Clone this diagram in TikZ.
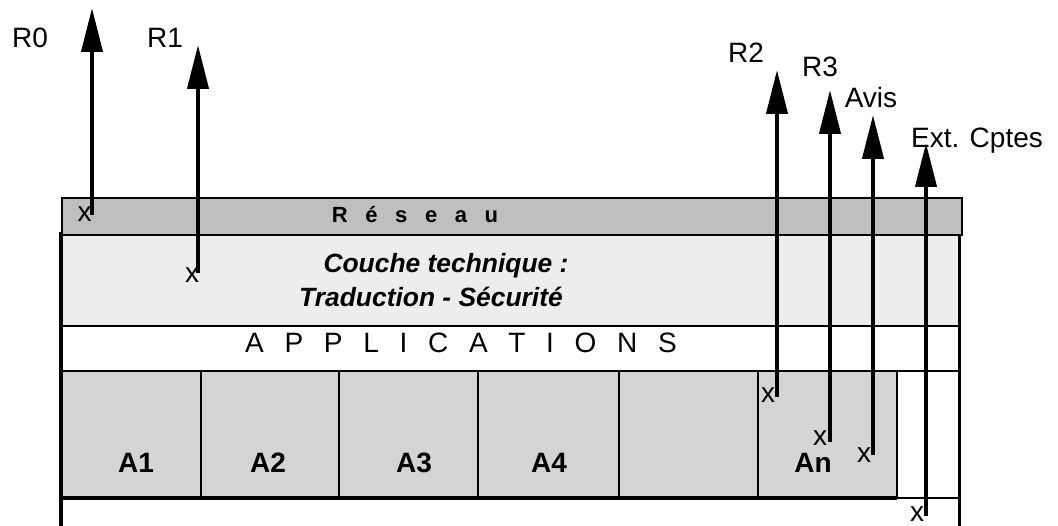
\documentclass[tikz,border=0pt]{standalone}
\usepackage{fontspec}
\setmainfont{Liberation Sans}
\usetikzlibrary{arrows.meta}
\definecolor{resgray}{HTML}{BFBFBF}
\definecolor{coulight}{HTML}{EDEDED}
\definecolor{appgray}{HTML}{D4D4D4}
\newcommand{\gapR}{\hspace{17.6pt}}
\newcommand{\gapA}{\hspace{20.7pt}}
\begin{document}
\begin{tikzpicture}[x=1pt,y=-1pt,
  band/.style={draw=black, line width=1.8pt, inner sep=0pt, outer sep=0pt, anchor=north west},
  appbox/.style={band, fill=appgray, minimum height=127pt},
  frame/.style={line width=4pt},
  arr/.style={line width=4.2pt, -{Triangle[length=44pt,width=21pt]}},
  lbl/.style={anchor=base, inner sep=0pt, font=\fontsize{28}{30}\selectfont},
  xm/.style={anchor=base, inner sep=0pt, font=\fontsize{28}{30}\selectfont},
  appname/.style={anchor=base, inner sep=0pt, font=\bfseries\fontsize{28}{30}\selectfont},
  couchetxt/.style={anchor=base, inner sep=0pt, font=\bfseries\itshape\fontsize{26.4}{28}\selectfont}
]
\useasboundingbox (0,0) rectangle (1058,526);
% layers
\node[band, fill=resgray, minimum width=900pt, minimum height=37pt] (reseau) at (62,198) {};
\node[band, fill=coulight, minimum width=897pt, minimum height=91pt] (couche) at (62,235) {};
\node[band, fill=white, minimum width=897pt, minimum height=45pt] (appli) at (62,326) {};
% application boxes
\node[appbox, minimum width=139pt] (a1) at (62,371) {};
\node[appbox, minimum width=138pt] (a2) at (201,371) {};
\node[appbox, minimum width=139pt] (a3) at (339,371) {};
\node[appbox, minimum width=141pt] (a4) at (478,371) {};
\node[appbox, minimum width=139pt] (a5) at (619,371) {};
\node[appbox, minimum width=139pt] (an) at (758,371) {};
\node[band, fill=white, minimum width=62pt, minimum height=127pt] (ext) at (897,371) {};
% frame lines
\draw[frame] (60.5,232) -- (60.5,526);
\draw[line width=3.5pt] (959.5,235) -- (959.5,526);
\draw[frame] (62,498) -- (897,498);
% texts in layers
\node[anchor=base, inner sep=0pt, font=\bfseries\fontsize{22}{24}\selectfont] (treseau) at (415,223)
  {R\gapR é\gapR s\gapR e\gapR a\gapR u};
\node[couchetxt] (tc1) at (446,273) {Couche technique :};
\node[couchetxt] (tc2) at (431,307) {Traduction - Sécurité};
\node[lbl] (tapp) at (461,353) {A\gapA P\gapA P\gapA L\gapA I\gapA C\gapA A\gapA T\gapA I\gapA O\gapA N\gapA S};
\node[appname] (ta1) at (136,472) {A1};
\node[appname] (ta2) at (268,472) {A2};
\node[appname] (ta3) at (414,472) {A3};
\node[appname] (ta4) at (549,472) {A4};
\node[appname] (tan) at (813,472) {An};
% arrows
\coordinate (r0b) at (92,215);  \coordinate (r0t) at (92,8);
\coordinate (r1b) at (198,273); \coordinate (r1t) at (198,45);
\coordinate (r2b) at (777,397); \coordinate (r2t) at (777,70);
\coordinate (r3b) at (830,442); \coordinate (r3t) at (830,90);
\coordinate (avb) at (873,455); \coordinate (avt) at (873,115);
\coordinate (exb) at (926,516); \coordinate (ext) at (926,143);
\draw[arr] (r0b) -- (r0t);
\draw[arr] (r1b) -- (r1t);
\draw[arr] (r2b) -- (r2t);
\draw[arr] (r3b) -- (r3t);
\draw[arr] (avb) -- (avt);
\draw[arr] (exb) -- (ext);
% arrow labels
\node[lbl] (lr0) at (30,48) {R0};
\node[lbl] (lr1) at (165,48) {R1};
\node[lbl] (lr2) at (746,63) {R2};
\node[lbl] (lr3) at (820,77) {R3};
\node[lbl] (lav) at (871,108) {Avis};
\node[lbl] (lex) at (977,148) {Ext. Cptes};
% x marks
\node[xm] (x0) at (84.5,222) {x};
\node[xm] (x1) at (192,283) {x};
\node[xm] (x2) at (768,403) {x};
\node[xm] (x3) at (820,446) {x};
\node[xm] (x4) at (864,463) {x};
\node[xm] (x5) at (917,521) {x};
\end{tikzpicture}
\end{document}
